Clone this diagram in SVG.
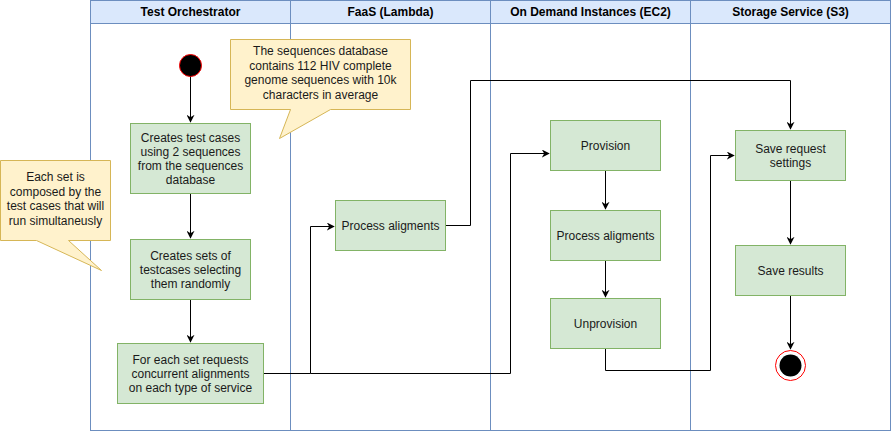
<svg xmlns="http://www.w3.org/2000/svg" width="891" height="431" viewBox="0 0 891 431">
<defs>
<style>
.lane{fill:none;stroke:#6c8ebf;stroke-width:1}
.hdr{fill:#dae8fc;stroke:#6c8ebf;stroke-width:1}
.ht{font-family:"Liberation Sans",Arial,sans-serif;font-size:12px;font-weight:bold;fill:#000;text-anchor:middle}
.box{fill:#d5e8d4;stroke:#82b366;stroke-width:1}
.t{font-family:"Liberation Sans",Arial,sans-serif;font-size:12px;fill:#1a1a1a;text-anchor:middle}
.note{fill:#fff2cc;stroke:#d6b656;stroke-width:1}
.c{fill:none;stroke:#000;stroke-width:1}
</style>
<marker id="arr" viewBox="0 0 10 10" refX="9" refY="5" markerWidth="8" markerHeight="8" markerUnits="userSpaceOnUse" orient="auto">
<path d="M0,0 L10,5 L0,10 L3,5 Z" fill="#000"/>
</marker>
</defs>
<rect width="891" height="431" fill="#fff"/>
<g id="lanes">
<rect class="hdr" x="90.5" y="0.5" width="800" height="23"/>
<rect class="lane" x="90.5" y="0.5" width="200" height="430"/>
<rect class="lane" x="290.5" y="0.5" width="200" height="430"/>
<rect class="lane" x="490.5" y="0.5" width="200" height="430"/>
<rect class="lane" x="690.5" y="0.5" width="200" height="430"/>
<line class="lane" x1="90.5" y1="23.5" x2="890.5" y2="23.5"/>
<text class="ht" x="190.5" y="16">Test Orchestrator</text>
<text class="ht" x="390.5" y="16">FaaS (Lambda)</text>
<text class="ht" x="590.5" y="16">On Demand Instances (EC2)</text>
<text class="ht" x="790.5" y="16">Storage Service (S3)</text>
</g>
<g id="connectors">
<path class="c" d="M190.5,76 V122" marker-end="url(#arr)"/>
<path class="c" d="M190.5,193.5 V238" marker-end="url(#arr)"/>
<path class="c" d="M190.5,299.5 V342" marker-end="url(#arr)"/>
<path class="c" d="M263.5,373.5 H310.5 V226.5 H334" marker-end="url(#arr)"/>
<path class="c" d="M310.5,373.5 H510.5 V153.5 H549" marker-end="url(#arr)"/>
<path class="c" d="M445.5,225.5 H470.5 V80.5 H790.5 V129" marker-end="url(#arr)"/>
<path class="c" d="M605.5,170.5 V209" marker-end="url(#arr)"/>
<path class="c" d="M605.5,260.5 V297" marker-end="url(#arr)"/>
<path class="c" d="M605.5,348.5 V370.5 H710.5 V155.5 H734" marker-end="url(#arr)"/>
<path class="c" d="M790.5,180.5 V244" marker-end="url(#arr)"/>
<path class="c" d="M790.5,295.5 V349" marker-end="url(#arr)"/>
</g>
<g id="start">
<circle cx="190.5" cy="65.5" r="11" fill="#000" stroke="#ff0000" stroke-width="1"/>
</g>
<g id="create-tests">
<rect class="box" x="130.5" y="123.5" width="120" height="70"/>
<text class="t" x="190.5" y="142">Creates test cases</text>
<text class="t" x="190.5" y="156">using 2 sequences</text>
<text class="t" x="190.5" y="170">from the sequences</text>
<text class="t" x="190.5" y="184">database</text>
</g>
<g id="create-sets">
<rect class="box" x="130.5" y="239.5" width="120" height="60"/>
<text class="t" x="190.5" y="260">Creates sets of</text>
<text class="t" x="190.5" y="274">testcases selecting</text>
<text class="t" x="190.5" y="288">them randomly</text>
</g>
<g id="requests">
<rect class="box" x="117.5" y="343.5" width="146" height="60"/>
<text class="t" x="190.5" y="364">For each set requests</text>
<text class="t" x="190.5" y="378">concurrent alignments</text>
<text class="t" x="190.5" y="392">on each type of service</text>
</g>
<g id="faas-process">
<rect class="box" x="335.5" y="200.5" width="110" height="50"/>
<text class="t" x="390.5" y="230">Process aligments</text>
</g>
<g id="provision">
<rect class="box" x="550.5" y="120.5" width="110" height="50"/>
<text class="t" x="605.5" y="150">Provision</text>
</g>
<g id="ec2-process">
<rect class="box" x="550.5" y="210.5" width="110" height="50"/>
<text class="t" x="605.5" y="240">Process aligments</text>
</g>
<g id="unprovision">
<rect class="box" x="550.5" y="298.5" width="110" height="50"/>
<text class="t" x="605.5" y="328">Unprovision</text>
</g>
<g id="save-settings">
<rect class="box" x="735.5" y="130.5" width="110" height="50"/>
<text class="t" x="790.5" y="153">Save request</text>
<text class="t" x="790.5" y="167">settings</text>
</g>
<g id="save-results">
<rect class="box" x="735.5" y="245.5" width="110" height="50"/>
<text class="t" x="790.5" y="275">Save results</text>
</g>
<g id="end">
<circle cx="790.5" cy="365.5" r="15" fill="#fff" stroke="#ff0000" stroke-width="1"/>
<circle cx="790.5" cy="365.5" r="11" fill="#000"/>
</g>
<g id="note-database">
<path class="note" d="M230.5,39.5 H410.5 V109.5 H330.5 L279.5,138.5 L290.5,109.5 H230.5 Z"/>
<text class="t" x="320.5" y="55">The sequences database</text>
<text class="t" x="320.5" y="70">contains 112 HIV complete</text>
<text class="t" x="320.5" y="84">genome sequences with 10k</text>
<text class="t" x="320.5" y="99">characters in average</text>
</g>
<g id="note-sets">
<path class="note" d="M0.5,160.5 H110.5 V240.5 H68.5 L101.5,270.5 L36.5,240.5 H0.5 Z"/>
<text class="t" x="55.5" y="181">Each set is</text>
<text class="t" x="55.5" y="196">composed by the</text>
<text class="t" x="55.5" y="210">test cases that will</text>
<text class="t" x="55.5" y="225">run simultaneusly</text>
</g>
</svg>
